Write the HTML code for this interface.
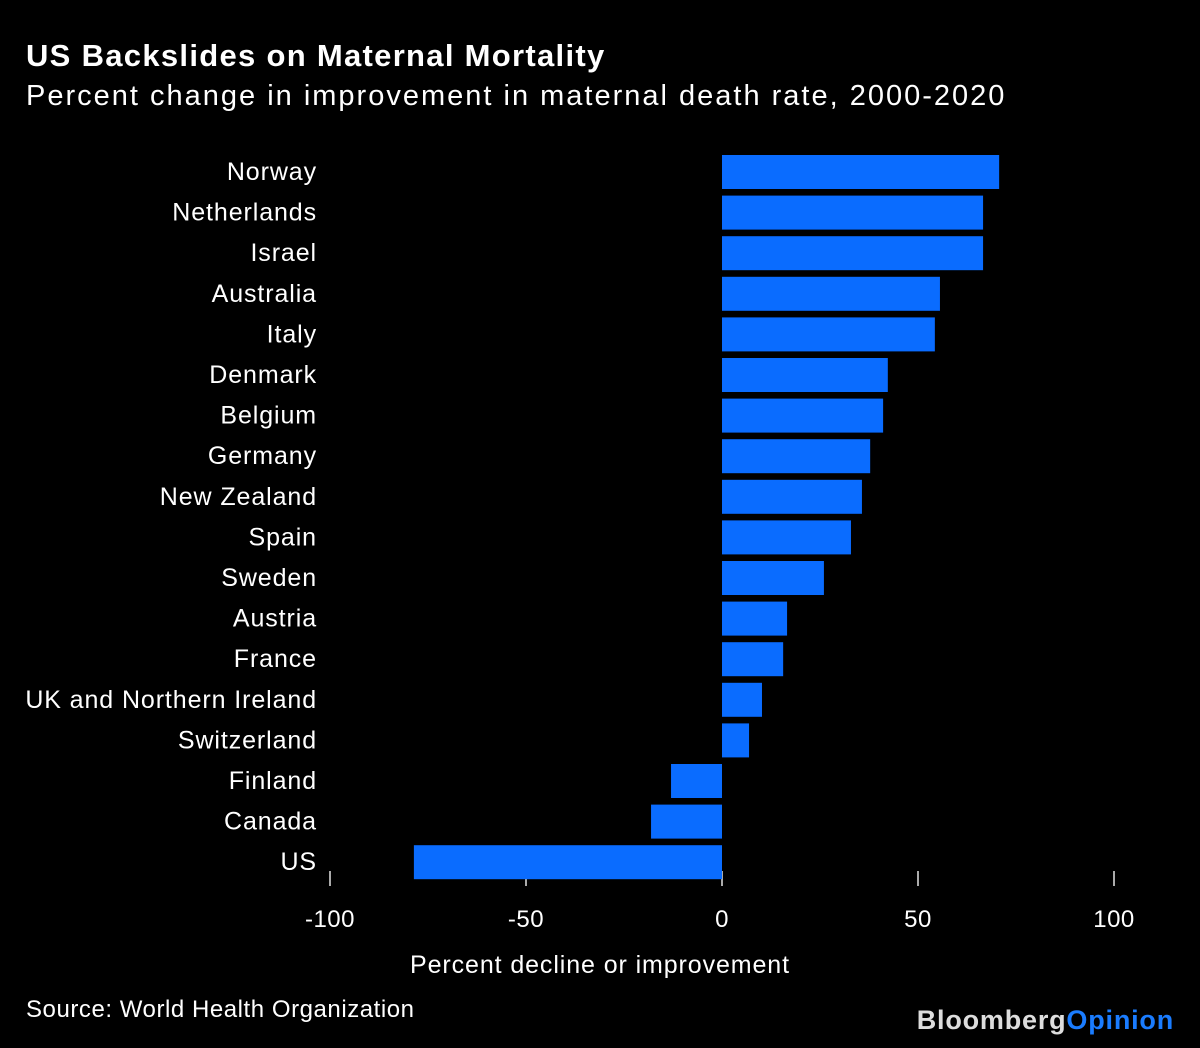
<!DOCTYPE html>
<html><head><meta charset="utf-8"><style>
body{margin:0;background:#000;width:1200px;height:1048px;overflow:hidden;font-family:"Liberation Sans",sans-serif;color:#fff}
#t{position:absolute;left:26px;top:38px;font-size:31px;font-weight:bold;letter-spacing:1.3px}
#s{position:absolute;left:26px;top:80px;font-size:29px;letter-spacing:2px}
#src{position:absolute;left:26px;top:996px;font-size:24px;letter-spacing:0.55px}
#logo{position:absolute;right:26px;top:1005px;font-size:27px;font-weight:bold;letter-spacing:0.8px;color:#ddd}
</style></head><body>
<div id="t">US Backslides on Maternal Mortality</div>
<div id="s">Percent change in improvement in maternal death rate, 2000-2020</div>
<svg id="chart" width="1200" height="1048" style="position:absolute;left:0;top:0"></svg>
<div id="src">Source: World Health Organization</div>
<div id="logo">Bloomberg<span style="color:#1a7cff">Opinion</span></div>
<script>
const countries=["Norway","Netherlands","Israel","Australia","Italy","Denmark","Belgium","Germany","New Zealand","Spain","Sweden","Austria","France","UK and Northern Ireland","Switzerland","Finland","Canada","US"];
const values=[70.7,66.6,66.6,55.6,54.3,42.3,41.1,37.8,35.7,32.9,26,16.6,15.6,10.2,6.9,-13,-18.1,-78.6];
const ticks=[-100,-50,0,50,100];
const tickLabels=["-100","-50","0","50","100"];
const NS="http://www.w3.org/2000/svg";
const svg=document.getElementById('chart');
const x=v=>722+v*3.92;
const y=i=>155+i*40.6;
function mk(t,a){const e=document.createElementNS(NS,t);for(const k in a)e.setAttribute(k,a[k]);svg.appendChild(e);return e;}
ticks.forEach((t,i)=>{
  const l=mk('line',{x1:x(t),x2:x(t),y1:871,y2:886,stroke:'#aaa','stroke-width':2});
  
  
  const tx=mk('text',{x:x(t),y:927,'text-anchor':'middle',fill:'#fff','font-size':24,'letter-spacing':'0.5'});
  tx.textContent=tickLabels[i];
  
  
});
countries.forEach((c,i)=>{
  const v=values[i];
  const r=mk('rect',{x:Math.min(x(0),x(v)),y:y(i),width:Math.abs(x(v)-x(0)),height:34,fill:'#0a6cff'});
  
  
  const tx=mk('text',{x:317,y:y(i)+25,'text-anchor':'end',fill:'#fff','font-size':25,'letter-spacing':'0.9'});
  tx.textContent=c;
  
  
});
const at=mk('text',{x:600,y:973,'text-anchor':'middle',fill:'#fff','font-size':25,'letter-spacing':'0.9'});
at.textContent="Percent decline or improvement";


</script>
</body></html>
